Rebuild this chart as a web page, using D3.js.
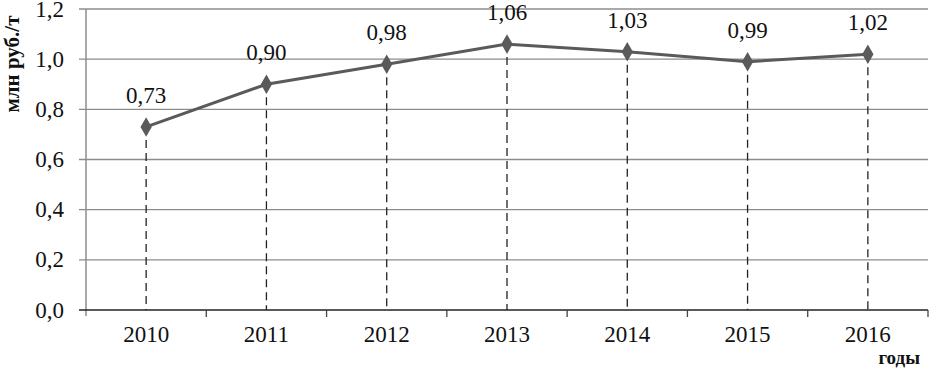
<!DOCTYPE html>
<html><head><meta charset="utf-8">
<script src="https://cdn.jsdelivr.net/npm/d3@7"></script>
<style>body{margin:0;background:#fff}svg{display:block}</style>
</head><body><svg id="c" width="931" height="368" font-family="'Liberation Serif', 'Times New Roman', Tinos, 'DejaVu Serif', serif"></svg>
<script>
const years = ["2010","2011","2012","2013","2014","2015","2016"];
const values = [0.73, 0.90, 0.98, 1.06, 1.03, 0.99, 1.02];
const labels = ["0,73","0,90","0,98","1,06","1,03","0,99","1,02"];
const yTicks = [0, 0.2, 0.4, 0.6, 0.8, 1.0, 1.2];
const yTitle = "млн руб./т";
const xTitle = "годы";

const svg = d3.select("#c");
const L = 86, R = 928, T = 9, B = 310;
const x = d3.scaleBand().domain(years).range([L, R]);
const y = d3.scaleLinear().domain([0, 1.2]).range([B, T]);
const fmt = d => d.toFixed(1).replace(".", ",");

// gridlines
svg.append("g").selectAll("line").data(yTicks.filter(d => d > 0)).join("line")
  .attr("x1", L - 7).attr("x2", R).attr("y1", d => y(d)).attr("y2", d => y(d))
  .attr("stroke", "#8c8c8c").attr("stroke-width", 1.3);
// y axis line
svg.append("line").attr("x1", L).attr("x2", L).attr("y1", T).attr("y2", B + 6)
  .attr("stroke", "#8c8c8c").attr("stroke-width", 1.5);
// x axis line
svg.append("line").attr("x1", L - 7).attr("x2", R).attr("y1", B).attr("y2", B)
  .attr("stroke", "#222").attr("stroke-width", 1.3);
// x ticks at boundaries
const bounds = years.map(d => x(d)).concat([R]);
svg.append("g").selectAll("line").data(bounds.slice(1)).join("line")
  .attr("x1", d => d).attr("x2", d => d).attr("y1", B).attr("y2", B + 7)
  .attr("stroke", "#444").attr("stroke-width", 1.3);
// y tick labels
svg.append("g").selectAll("text").data(yTicks).join("text")
  .attr("x", 64).attr("y", d => y(d)).attr("dy", "0.33em")
  .attr("text-anchor", "end").attr("font-size", 23).attr("fill", "#111").text(fmt);
// x tick labels
svg.append("g").selectAll("text").data(years).join("text")
  .attr("x", d => x(d) + x.bandwidth() / 2).attr("y", 342)
  .attr("text-anchor", "middle").attr("font-size", 23).attr("fill", "#111").text(d => d);
// dashed drop lines
const cx = d => x(d) + x.bandwidth() / 2;
svg.append("g").selectAll("line").data(years).join("line")
  .attr("x1", cx).attr("x2", cx).attr("y1", (d, i) => y(values[i])).attr("y2", B)
  .attr("stroke", "#222").attr("stroke-width", 1.3).attr("stroke-dasharray", "8,5");
// line
svg.append("path").datum(values)
  .attr("d", d3.line().x((d, i) => cx(years[i])).y(d => y(d)))
  .attr("fill", "none").attr("stroke", "#5a5a5a").attr("stroke-width", 3);
// markers
svg.append("g").selectAll("path").data(values).join("path")
  .attr("d", d3.symbol(d3.symbolDiamond, 110))
  .attr("transform", (d, i) => `translate(${cx(years[i])},${y(d)})`)
  .attr("fill", "#5a5a5a");
// data labels
svg.append("g").selectAll("text").data(values).join("text")
  .attr("x", (d, i) => cx(years[i])).attr("y", d => y(d) - 24)
  .attr("text-anchor", "middle").attr("font-size", 23).attr("fill", "#111")
  .text((d, i) => labels[i]);
// axis titles
svg.append("text").attr("transform", "translate(19,64) rotate(-90)")
  .attr("text-anchor", "middle").attr("font-size", 21).attr("font-weight", "bold").attr("fill", "#111").text(yTitle);
svg.append("text").attr("x", 920).attr("y", 363.5).attr("text-anchor", "end")
  .attr("font-size", 19).attr("font-weight", "bold").attr("fill", "#111").text(xTitle);
</script></body></html>
